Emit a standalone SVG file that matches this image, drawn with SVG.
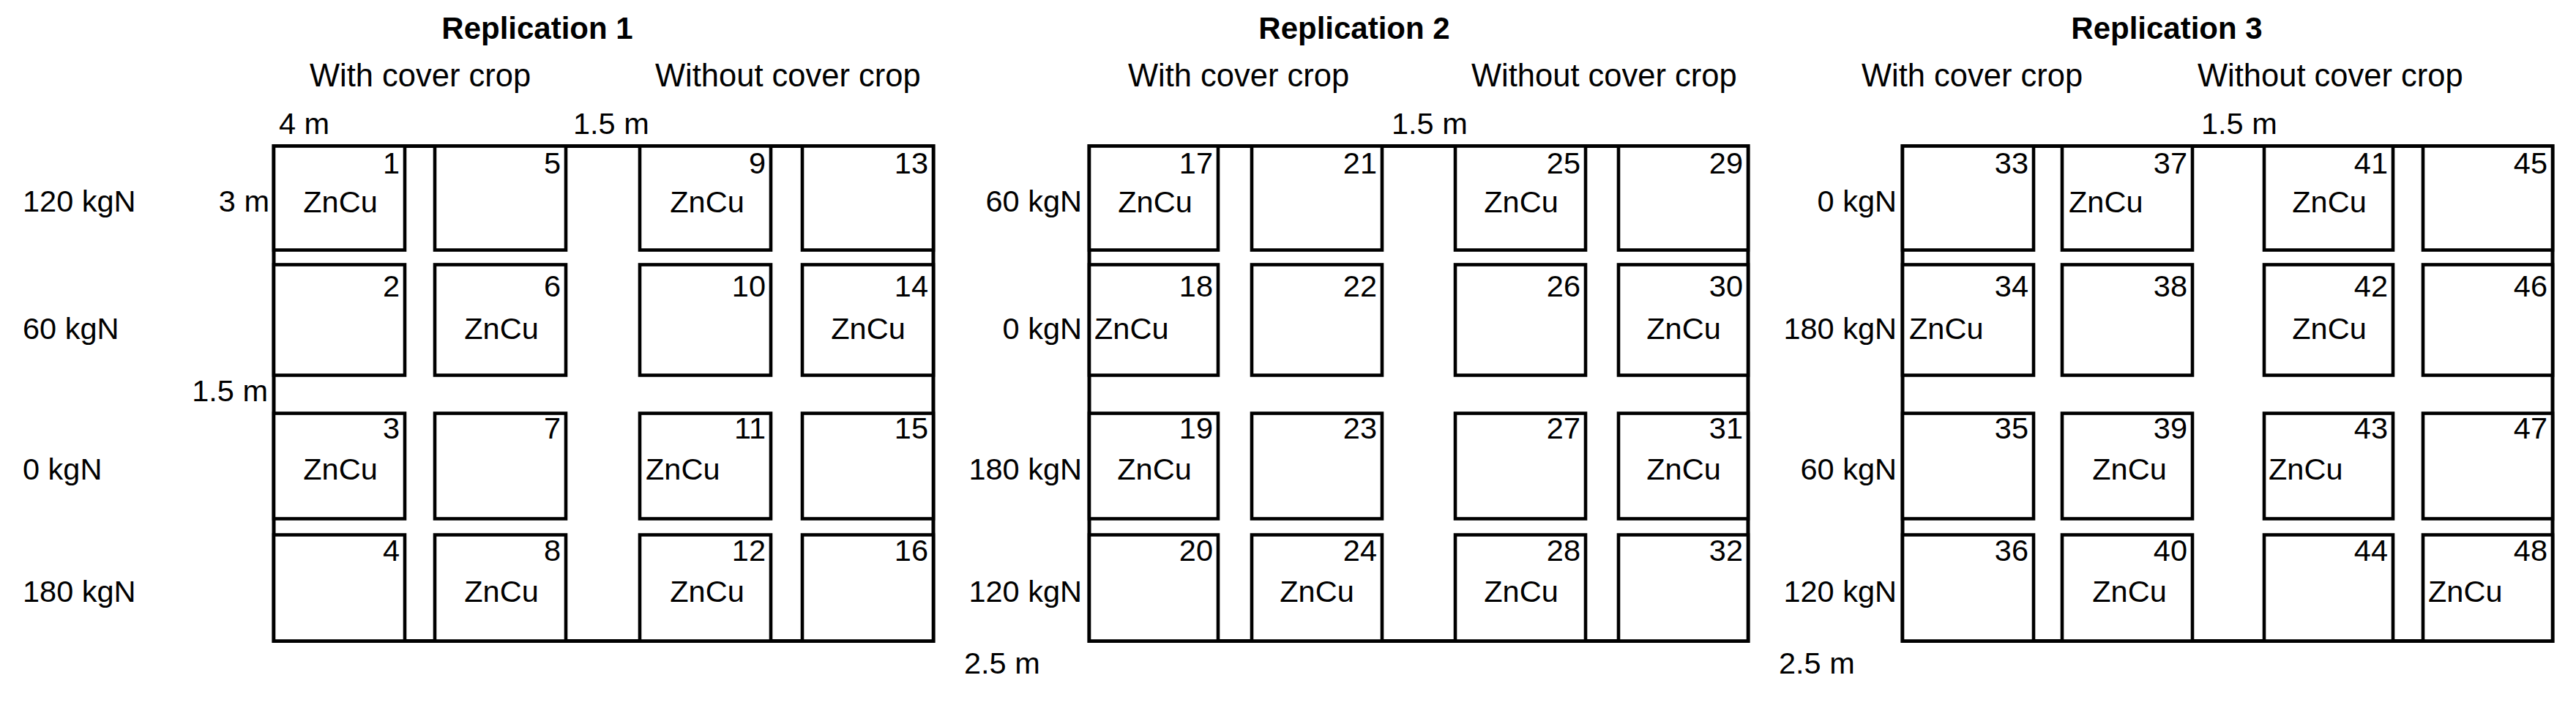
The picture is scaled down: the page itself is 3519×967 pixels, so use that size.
<svg xmlns="http://www.w3.org/2000/svg" width="3519" height="967" viewBox="0 0 3519 967">
<style>
text{font-family:"Liberation Sans",Arial,sans-serif;fill:#000;font-size:41.5px}
.t{font-weight:bold;font-size:42px;text-anchor:middle}
.h{font-size:43.5px}
.e{text-anchor:end}
.m{text-anchor:middle}
.o{fill:none;stroke:#000;stroke-width:5}
.p{fill:#fff;stroke:#000;stroke-width:4.6}
</style>
<rect width="3519" height="967" fill="#fff"/>
<g id="connectors"></g>

<!-- Replication 1 -->
<g id="rep1">
<text class="t" x="734" y="53">Replication 1</text>
<text class="h" x="423" y="118">With cover crop</text>
<text class="h" x="895" y="118">Without cover crop</text>
<text x="381" y="183">4 m</text>
<text x="783" y="183">1.5 m</text>
<text x="31" y="289">120 kgN</text>
<text x="31" y="463">60 kgN</text>
<text x="31" y="655">0 kgN</text>
<text x="31" y="822">180 kgN</text>
<text class="e" x="368" y="289">3 m</text>
<text class="e" x="366" y="548">1.5 m</text>
<rect class="o" x="374" y="199.5" width="901" height="676"/>
</g>
<g id="p1"><rect class="p" x="374" y="199.5" width="179" height="142"/><text class="e" x="546" y="237">1</text><text class="m" x="465" y="290">ZnCu</text></g>
<g id="p2"><rect class="p" x="374" y="361.5" width="179" height="151"/><text class="e" x="546" y="405">2</text></g>
<g id="p3"><rect class="p" x="374" y="564.5" width="179" height="144"/><text class="e" x="546" y="599">3</text><text class="m" x="465" y="655">ZnCu</text></g>
<g id="p4"><rect class="p" x="374" y="730.5" width="179" height="145"/><text class="e" x="546" y="766">4</text></g>
<g id="p5"><rect class="p" x="594" y="199.5" width="179" height="142"/><text class="e" x="766" y="237">5</text></g>
<g id="p6"><rect class="p" x="594" y="361.5" width="179" height="151"/><text class="e" x="766" y="405">6</text><text class="m" x="685" y="463">ZnCu</text></g>
<g id="p7"><rect class="p" x="594" y="564.5" width="179" height="144"/><text class="e" x="766" y="599">7</text></g>
<g id="p8"><rect class="p" x="594" y="730.5" width="179" height="145"/><text class="e" x="766" y="766">8</text><text class="m" x="685" y="822">ZnCu</text></g>
<g id="p9"><rect class="p" x="874" y="199.5" width="179" height="142"/><text class="e" x="1046" y="237">9</text><text class="m" x="966" y="290">ZnCu</text></g>
<g id="p10"><rect class="p" x="874" y="361.5" width="179" height="151"/><text class="e" x="1046" y="405">10</text></g>
<g id="p11"><rect class="p" x="874" y="564.5" width="179" height="144"/><text class="e" x="1046" y="599">11</text><text x="882" y="655">ZnCu</text></g>
<g id="p12"><rect class="p" x="874" y="730.5" width="179" height="145"/><text class="e" x="1046" y="766">12</text><text class="m" x="966" y="822">ZnCu</text></g>
<g id="p13"><rect class="p" x="1096" y="199.5" width="179" height="142"/><text class="e" x="1268" y="237">13</text></g>
<g id="p14"><rect class="p" x="1096" y="361.5" width="179" height="151"/><text class="e" x="1268" y="405">14</text><text class="m" x="1186" y="463">ZnCu</text></g>
<g id="p15"><rect class="p" x="1096" y="564.5" width="179" height="144"/><text class="e" x="1268" y="599">15</text></g>
<g id="p16"><rect class="p" x="1096" y="730.5" width="179" height="145"/><text class="e" x="1268" y="766">16</text></g>

<!-- Replication 2 -->
<g id="rep2">
<text class="t" x="1850" y="53">Replication 2</text>
<text class="h" x="1541" y="118">With cover crop</text>
<text class="h" x="2010" y="118">Without cover crop</text>
<text x="1901" y="183">1.5 m</text>
<text class="e" x="1478" y="289">60 kgN</text>
<text class="e" x="1478" y="463">0 kgN</text>
<text class="e" x="1478" y="655">180 kgN</text>
<text class="e" x="1478" y="822">120 kgN</text>
<text x="1317" y="920">2.5 m</text>
<rect class="o" x="1488" y="199.5" width="900" height="676"/>
</g>
<g id="p17"><rect class="p" x="1488" y="199.5" width="176" height="142"/><text class="e" x="1657" y="237">17</text><text class="m" x="1578" y="290">ZnCu</text></g>
<g id="p18"><rect class="p" x="1488" y="361.5" width="176" height="151"/><text class="e" x="1657" y="405">18</text><text x="1495" y="463">ZnCu</text></g>
<g id="p19"><rect class="p" x="1488" y="564.5" width="176" height="144"/><text class="e" x="1657" y="599">19</text><text class="m" x="1577" y="655">ZnCu</text></g>
<g id="p20"><rect class="p" x="1488" y="730.5" width="176" height="145"/><text class="e" x="1657" y="766">20</text></g>
<g id="p21"><rect class="p" x="1710" y="199.5" width="178" height="142"/><text class="e" x="1881" y="237">21</text></g>
<g id="p22"><rect class="p" x="1710" y="361.5" width="178" height="151"/><text class="e" x="1881" y="405">22</text></g>
<g id="p23"><rect class="p" x="1710" y="564.5" width="178" height="144"/><text class="e" x="1881" y="599">23</text></g>
<g id="p24"><rect class="p" x="1710" y="730.5" width="178" height="145"/><text class="e" x="1881" y="766">24</text><text class="m" x="1799" y="822">ZnCu</text></g>
<g id="p25"><rect class="p" x="1988" y="199.5" width="178" height="142"/><text class="e" x="2159" y="237">25</text><text class="m" x="2078" y="290">ZnCu</text></g>
<g id="p26"><rect class="p" x="1988" y="361.5" width="178" height="151"/><text class="e" x="2159" y="405">26</text></g>
<g id="p27"><rect class="p" x="1988" y="564.5" width="178" height="144"/><text class="e" x="2159" y="599">27</text></g>
<g id="p28"><rect class="p" x="1988" y="730.5" width="178" height="145"/><text class="e" x="2159" y="766">28</text><text class="m" x="2078" y="822">ZnCu</text></g>
<g id="p29"><rect class="p" x="2211" y="199.5" width="177" height="142"/><text class="e" x="2381" y="237">29</text></g>
<g id="p30"><rect class="p" x="2211" y="361.5" width="177" height="151"/><text class="e" x="2381" y="405">30</text><text class="m" x="2300" y="463">ZnCu</text></g>
<g id="p31"><rect class="p" x="2211" y="564.5" width="177" height="144"/><text class="e" x="2381" y="599">31</text><text class="m" x="2300" y="655">ZnCu</text></g>
<g id="p32"><rect class="p" x="2211" y="730.5" width="177" height="145"/><text class="e" x="2381" y="766">32</text></g>

<!-- Replication 3 -->
<g id="rep3">
<text class="t" x="2960" y="53">Replication 3</text>
<text class="h" x="2543" y="118">With cover crop</text>
<text class="h" x="3002" y="118">Without cover crop</text>
<text x="3007" y="183">1.5 m</text>
<text class="e" x="2591" y="289">0 kgN</text>
<text class="e" x="2591" y="463">180 kgN</text>
<text class="e" x="2591" y="655">60 kgN</text>
<text class="e" x="2591" y="822">120 kgN</text>
<text x="2430" y="920">2.5 m</text>
<rect class="o" x="2599" y="199.5" width="888" height="676"/>
</g>
<g id="p33"><rect class="p" x="2599" y="199.5" width="179" height="142"/><text class="e" x="2771" y="237">33</text></g>
<g id="p34"><rect class="p" x="2599" y="361.5" width="179" height="151"/><text class="e" x="2771" y="405">34</text><text x="2608" y="463">ZnCu</text></g>
<g id="p35"><rect class="p" x="2599" y="564.5" width="179" height="144"/><text class="e" x="2771" y="599">35</text></g>
<g id="p36"><rect class="p" x="2599" y="730.5" width="179" height="145"/><text class="e" x="2771" y="766">36</text></g>
<g id="p37"><rect class="p" x="2817" y="199.5" width="178" height="142"/><text class="e" x="2988" y="237">37</text><text x="2826" y="290">ZnCu</text></g>
<g id="p38"><rect class="p" x="2817" y="361.5" width="178" height="151"/><text class="e" x="2988" y="405">38</text></g>
<g id="p39"><rect class="p" x="2817" y="564.5" width="178" height="144"/><text class="e" x="2988" y="599">39</text><text class="m" x="2909" y="655">ZnCu</text></g>
<g id="p40"><rect class="p" x="2817" y="730.5" width="178" height="145"/><text class="e" x="2988" y="766">40</text><text class="m" x="2909" y="822">ZnCu</text></g>
<g id="p41"><rect class="p" x="3093" y="199.5" width="176" height="142"/><text class="e" x="3262" y="237">41</text><text class="m" x="3182" y="290">ZnCu</text></g>
<g id="p42"><rect class="p" x="3093" y="361.5" width="176" height="151"/><text class="e" x="3262" y="405">42</text><text class="m" x="3182" y="463">ZnCu</text></g>
<g id="p43"><rect class="p" x="3093" y="564.5" width="176" height="144"/><text class="e" x="3262" y="599">43</text><text x="3099" y="655">ZnCu</text></g>
<g id="p44"><rect class="p" x="3093" y="730.5" width="176" height="145"/><text class="e" x="3262" y="766">44</text></g>
<g id="p45"><rect class="p" x="3310" y="199.5" width="177" height="142"/><text class="e" x="3480" y="237">45</text></g>
<g id="p46"><rect class="p" x="3310" y="361.5" width="177" height="151"/><text class="e" x="3480" y="405">46</text></g>
<g id="p47"><rect class="p" x="3310" y="564.5" width="177" height="144"/><text class="e" x="3480" y="599">47</text></g>
<g id="p48"><rect class="p" x="3310" y="730.5" width="177" height="145"/><text class="e" x="3480" y="766">48</text><text x="3317" y="822">ZnCu</text></g>
</svg>
